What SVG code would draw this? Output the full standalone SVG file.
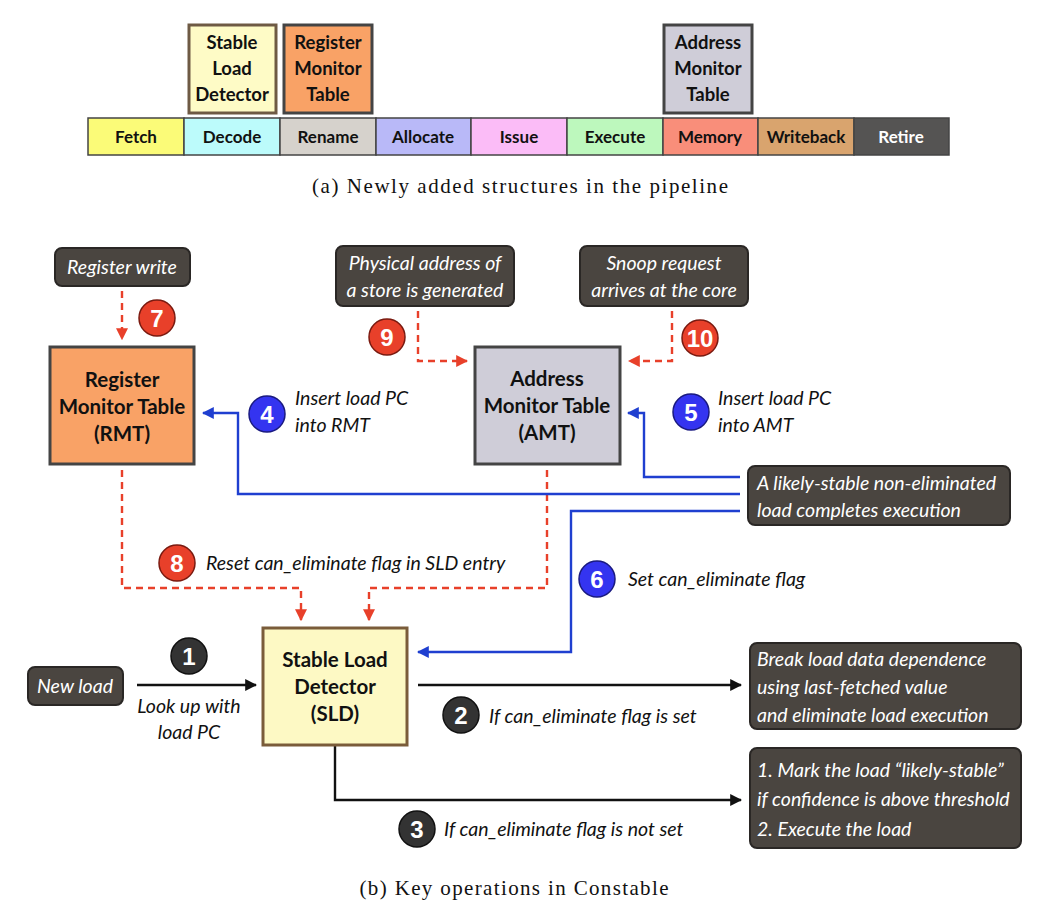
<svg xmlns="http://www.w3.org/2000/svg" width="1042" height="917" viewBox="0 0 1042 917">
  <defs>
    <marker id="arrBlack" viewBox="0 0 10 10" refX="9" refY="5" markerWidth="12" markerHeight="12" markerUnits="userSpaceOnUse" orient="auto">
      <path d="M0,0 L10,5 L0,10 z" fill="#111"/>
    </marker>
    <marker id="arrBlue" viewBox="0 0 10 10" refX="9" refY="5" markerWidth="12" markerHeight="12" markerUnits="userSpaceOnUse" orient="auto">
      <path d="M0,0 L10,5 L0,10 z" fill="#1f3fd0"/>
    </marker>
    <marker id="arrRed" viewBox="0 0 10 10" refX="9" refY="5" markerWidth="12" markerHeight="12" markerUnits="userSpaceOnUse" orient="auto">
      <path d="M0,0 L10,5 L0,10 z" fill="#e8402a"/>
    </marker>
  </defs>
  <style>
    .stage { stroke: #444; stroke-width: 1.5; }
    .stxt { font-family: Lato, "Open Sans", sans-serif; font-weight: bold; font-size: 17px; fill: #111; text-anchor: middle; }
    .struct { stroke: #444; stroke-width: 3; }
    .sbtxt { font-family: Lato, "Open Sans", sans-serif; font-weight: bold; font-size: 18.5px; fill: #111; text-anchor: middle; }
    .ntxt { font-family: Lato, "Open Sans", sans-serif; font-weight: bold; font-size: 20.5px; fill: #111; text-anchor: middle; }
    .dark { fill: #4a4540; stroke: #2a2725; stroke-width: 2; }
    .wtxt { font-family: Lato, "Open Sans", sans-serif; font-style: italic; font-size: 19.5px; fill: #fff; }
    .ltxt { font-family: Lato, "Open Sans", sans-serif; font-style: italic; font-size: 19.5px; fill: #111; }
    .cap { font-family: "Liberation Serif", serif; font-size: 21px; fill: #111; text-anchor: middle; }
    .bnum { font-family: "Liberation Sans", Arial, sans-serif; font-weight: bold; font-size: 24px; fill: #fff; text-anchor: middle; }
    .bred { fill: #e8402a; stroke: #7a1a10; stroke-width: 1.5; }
    .bblue { fill: #3434f0; stroke: #1a1a80; stroke-width: 1.5; }
    .bdark { fill: #333; stroke: #111; stroke-width: 1.5; }
    .cblack { fill: none; stroke: #111; stroke-width: 2.4; }
    .cblue { fill: none; stroke: #1f3fd0; stroke-width: 2.4; }
    .cred { fill: none; stroke: #e8402a; stroke-width: 2.4; stroke-dasharray: 7 5; }
  </style>

  <!-- (a) pipeline stages -->
  <g id="pipeline">
    <rect class="stage" x="88" y="118" width="96" height="37" fill="#fbfb78"/>
    <rect class="stage" x="184" y="118" width="96" height="37" fill="#bcfbfb"/>
    <rect class="stage" x="280" y="118" width="96" height="37" fill="#d6d2cc"/>
    <rect class="stage" x="376" y="118" width="95" height="37" fill="#b9b9f8"/>
    <rect class="stage" x="471" y="118" width="96" height="37" fill="#fbbcf7"/>
    <rect class="stage" x="567" y="118" width="96" height="37" fill="#bdf8bd"/>
    <rect class="stage" x="663" y="118" width="95" height="37" fill="#f98e7a"/>
    <rect class="stage" x="758" y="118" width="96" height="37" fill="#d9a46e"/>
    <rect class="stage" x="854" y="118" width="95" height="37" fill="#555453"/>
    <text class="stxt" x="136" y="143">Fetch</text>
    <text class="stxt" x="232" y="143">Decode</text>
    <text class="stxt" x="328" y="143">Rename</text>
    <text class="stxt" x="423" y="143">Allocate</text>
    <text class="stxt" x="519" y="143">Issue</text>
    <text class="stxt" x="615" y="143">Execute</text>
    <text class="stxt" x="710" y="143">Memory</text>
    <text class="stxt" x="806" y="143">Writeback</text>
    <text class="stxt" x="901" y="143" style="fill:#fff">Retire</text>
  </g>

  <g id="sld-small">
    <rect class="struct" x="189" y="25" width="87" height="88" fill="#fefbc6" style="stroke:#6e5a44"/>
    <text class="sbtxt" x="232" y="49">Stable</text>
    <text class="sbtxt" x="232" y="75">Load</text>
    <text class="sbtxt" x="232" y="101">Detector</text>
  </g>
  <g id="rmt-small">
    <rect class="struct" x="284" y="25" width="88" height="88" fill="#f9a266"/>
    <text class="sbtxt" x="328" y="49">Register</text>
    <text class="sbtxt" x="328" y="75">Monitor</text>
    <text class="sbtxt" x="328" y="101">Table</text>
  </g>
  <g id="amt-small">
    <rect class="struct" x="664" y="25" width="88" height="88" fill="#cfcdd8"/>
    <text class="sbtxt" x="708" y="49">Address</text>
    <text class="sbtxt" x="708" y="75">Monitor</text>
    <text class="sbtxt" x="708" y="101">Table</text>
  </g>

  <text class="cap" x="520" y="193" textLength="416" lengthAdjust="spacing">(a) Newly added structures in the pipeline</text>

  <!-- (b) connectors -->
  <g id="connectors">
    <!-- red dashed: invalidation events -->
    <path class="cred" d="M122,291 V339" marker-end="url(#arrRed)"/>
    <path class="cred" d="M418,311 V361 H467" marker-end="url(#arrRed)"/>
    <path class="cred" d="M672,311 V361 H629" marker-end="url(#arrRed)"/>
    <path class="cred" d="M122,470 V588 H301 V620" marker-end="url(#arrRed)"/>
    <path class="cred" d="M547,470 V588 H369 V620" marker-end="url(#arrRed)"/>
    <!-- blue: completion updates -->
    <path class="cblue" d="M740,494 H238 V413 H203" marker-end="url(#arrBlue)"/>
    <path class="cblue" d="M740,477 H644 V413 H628" marker-end="url(#arrBlue)"/>
    <path class="cblue" d="M740,511 H571 V652 H418" marker-end="url(#arrBlue)"/>
    <!-- black: lookup and outcomes -->
    <path class="cblack" d="M137,685 H256" marker-end="url(#arrBlack)"/>
    <path class="cblack" d="M418,685 H741" marker-end="url(#arrBlack)"/>
    <path class="cblack" d="M335,746 V800 H741" marker-end="url(#arrBlack)"/>
  </g>

  <!-- event boxes -->
  <g id="register-write">
    <rect class="dark" x="55" y="248" width="135" height="38" rx="7"/>
    <text class="wtxt" x="122" y="274" text-anchor="middle">Register write</text>
  </g>
  <g id="phys-addr">
    <rect class="dark" x="336" y="246" width="178" height="60" rx="7"/>
    <text class="wtxt" x="425" y="270" text-anchor="middle">Physical address of</text>
    <text class="wtxt" x="425" y="297" text-anchor="middle">a store is generated</text>
  </g>
  <g id="snoop">
    <rect class="dark" x="580" y="246" width="168" height="60" rx="7"/>
    <text class="wtxt" x="664" y="270" text-anchor="middle">Snoop request</text>
    <text class="wtxt" x="664" y="297" text-anchor="middle">arrives at the core</text>
  </g>

  <!-- monitor tables -->
  <g id="rmt">
    <rect class="struct" x="50" y="347" width="144" height="117" fill="#f9a266"/>
    <text class="ntxt" x="122" y="387">Register</text>
    <text class="ntxt" x="122" y="414">Monitor Table</text>
    <text class="ntxt" x="122" y="441">(RMT)</text>
  </g>
  <g id="amt">
    <rect class="struct" x="475" y="347" width="145" height="117" fill="#cfcdd8"/>
    <text class="ntxt" x="547" y="386">Address</text>
    <text class="ntxt" x="547" y="413">Monitor Table</text>
    <text class="ntxt" x="547" y="440">(AMT)</text>
  </g>

  <g id="completes">
    <rect class="dark" x="748" y="466" width="262" height="59" rx="7"/>
    <text class="wtxt" x="757" y="490">A likely-stable non-eliminated</text>
    <text class="wtxt" x="757" y="517">load completes execution</text>
  </g>

  <g id="sld">
    <rect class="struct" x="263" y="628" width="144" height="117" fill="#fdf9c4" style="stroke:#7a5c3a"/>
    <text class="ntxt" x="335" y="667">Stable Load</text>
    <text class="ntxt" x="335" y="694">Detector</text>
    <text class="ntxt" x="335" y="721">(SLD)</text>
  </g>

  <g id="new-load">
    <rect class="dark" x="28" y="667" width="95" height="38" rx="7"/>
    <text class="wtxt" x="75" y="693" text-anchor="middle">New load</text>
  </g>

  <g id="eliminate">
    <rect class="dark" x="750" y="643" width="271" height="86" rx="7"/>
    <text class="wtxt" x="757" y="666">Break load data dependence</text>
    <text class="wtxt" x="757" y="694">using last-fetched value</text>
    <text class="wtxt" x="757" y="722">and eliminate load execution</text>
  </g>

  <g id="execute">
    <rect class="dark" x="750" y="748" width="271" height="100" rx="7"/>
    <text class="wtxt" x="757" y="777">1. Mark the load “likely-stable”</text>
    <text class="wtxt" x="757" y="806">if confidence is above threshold</text>
    <text class="wtxt" x="757" y="836">2. Execute the load</text>
  </g>

  <!-- step badges -->
  <g id="badges">
    <circle class="bred" cx="157" cy="318" r="18"/><text class="bnum" x="157" y="327">7</text>
    <circle class="bred" cx="387" cy="337" r="18"/><text class="bnum" x="387" y="346">9</text>
    <circle class="bred" cx="700" cy="338" r="18"/><text class="bnum" x="700" y="347">10</text>
    <circle class="bblue" cx="267" cy="414" r="18"/><text class="bnum" x="267" y="423">4</text>
    <circle class="bblue" cx="691" cy="412" r="18"/><text class="bnum" x="691" y="421">5</text>
    <circle class="bred" cx="177" cy="563" r="18"/><text class="bnum" x="177" y="572">8</text>
    <circle class="bblue" cx="597" cy="579" r="18"/><text class="bnum" x="597" y="588">6</text>
    <circle class="bdark" cx="189" cy="656" r="18"/><text class="bnum" x="189" y="665">1</text>
    <circle class="bdark" cx="461" cy="715" r="18"/><text class="bnum" x="461" y="724">2</text>
    <circle class="bdark" cx="417" cy="829" r="18"/><text class="bnum" x="417" y="838">3</text>
  </g>

  <g id="labels">
    <text class="ltxt" x="295" y="405">Insert load PC</text>
    <text class="ltxt" x="295" y="432">into RMT</text>
    <text class="ltxt" x="718" y="405">Insert load PC</text>
    <text class="ltxt" x="718" y="432">into AMT</text>
    <text class="ltxt" x="206" y="570">Reset can_eliminate flag in SLD entry</text>
    <text class="ltxt" x="628" y="586">Set can_eliminate flag</text>
    <text class="ltxt" x="189" y="713" text-anchor="middle">Look up with</text>
    <text class="ltxt" x="189" y="739" text-anchor="middle">load PC</text>
    <text class="ltxt" x="489" y="723">If can_eliminate flag is set</text>
    <text class="ltxt" x="444" y="836">If can_eliminate flag is not set</text>
  </g>

  <text class="cap" x="514" y="895" textLength="309" lengthAdjust="spacing">(b) Key operations in Constable</text>
</svg>
